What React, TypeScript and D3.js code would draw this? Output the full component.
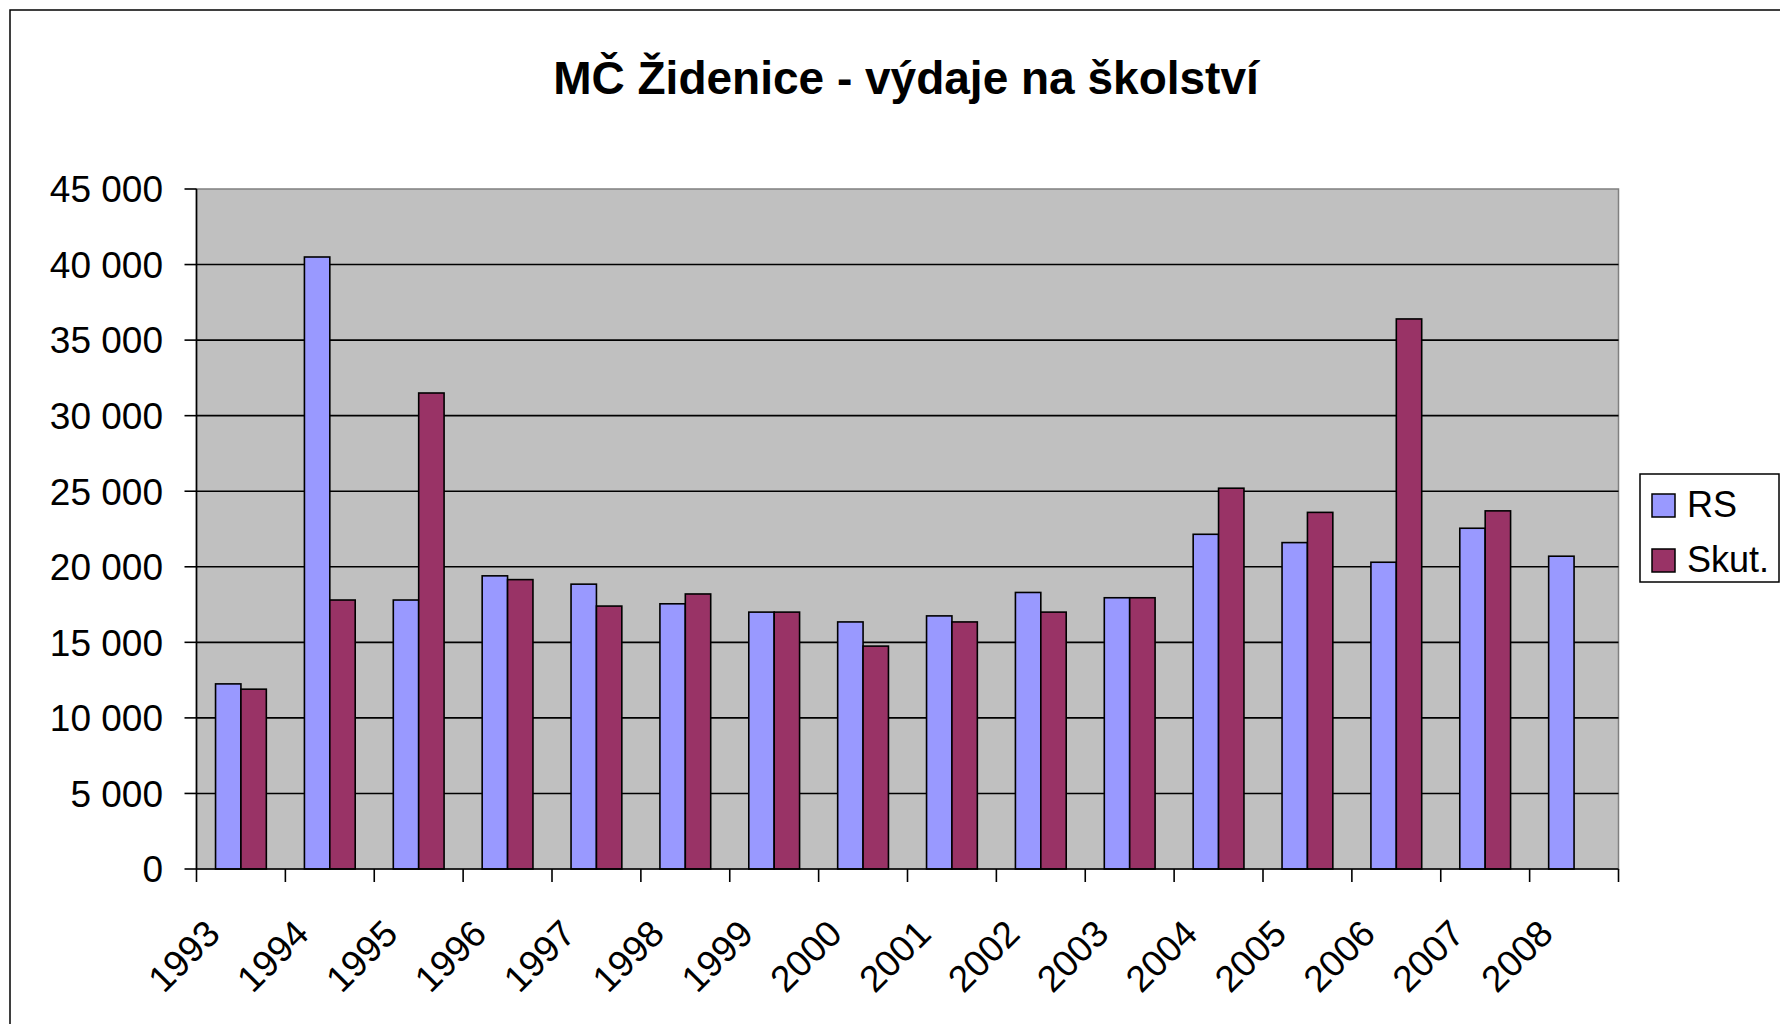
import React, { useEffect, useRef } from "react";
import * as d3 from "d3";

// data (thousands CZK)
const years = ["1993", "1994", "1995", "1996", "1997", "1998", "1999", "2000",
  "2001", "2002", "2003", "2004", "2005", "2006", "2007", "2008"];
const rsValues = [12250, 40500, 17800, 19400, 18850, 17550, 17000, 16350,
  16750, 18300, 17950, 22150, 21600, 20300, 22550, 20700];
const skutValues = [11900, 17800, 31500, 19150, 17400, 18200, 17000, 14750,
  16350, 17000, 17950, 25200, 23600, 36400, 23700, null];
const seriesNames = ["RS", "Skut."];
const seriesColors = ["#9999FF", "#993366"];
const yTickValues = [0, 5000, 10000, 15000, 20000, 25000, 30000, 35000, 40000, 45000];
const title = "MČ Židenice - výdaje na školství";

const FONT = "'Liberation Sans', Arial, sans-serif";

export default function App() {
  const ref = useRef<SVGSVGElement>(null);

  useEffect(() => {
    const width = 1780;
    const height = 1024;
    const left = 196.5;
    const right = 1618.5;
    const top = 189;
    const bottom = 869;

    const svg = d3.select(ref.current);
    svg.selectAll("*").remove();
    svg.attr("width", width).attr("height", height);

    svg.append("rect").attr("width", width).attr("height", height).attr("fill", "#fff");

    // outer chart border (only left and top are visible)
    svg
      .append("rect")
      .attr("x", 10)
      .attr("y", 10)
      .attr("width", width + 40)
      .attr("height", height + 40)
      .attr("fill", "none")
      .attr("stroke", "#000")
      .attr("stroke-width", 1.5);

    const x = d3.scaleBand().domain(years).range([left, right]).padding(0);
    const xs = d3
      .scaleBand()
      .domain(seriesNames)
      .range([0, x.bandwidth()])
      .paddingInner(0)
      .paddingOuter(0.75);
    const y = d3.scaleLinear().domain([0, 45000]).range([bottom, top]);
    const fmt = d3.formatLocale({ decimal: ",", thousands: " ", grouping: [3], currency: ["", ""] }).format(",");

    // plot area
    svg
      .append("rect")
      .attr("x", left)
      .attr("y", top)
      .attr("width", right - left)
      .attr("height", bottom - top)
      .attr("fill", "#C0C0C0")
      .attr("stroke", "#808080")
      .attr("stroke-width", 1.5);

    // gridlines
    svg
      .append("g")
      .selectAll("line")
      .data(yTickValues.filter(d => d > 0 && d < 45000))
      .join("line")
      .attr("x1", left)
      .attr("x2", right)
      .attr("y1", d => y(d))
      .attr("y2", d => y(d))
      .attr("stroke", "#000")
      .attr("stroke-width", 1.6);

    // bars
    const rows = years.map((yr, i) => ({ year: yr, values: [rsValues[i], skutValues[i]] }));
    svg
      .append("g")
      .selectAll("g")
      .data(rows)
      .join("g")
      .attr("transform", d => `translate(${x(d.year)},0)`)
      .selectAll("rect")
      .data(d => d.values.map((v, j) => ({ name: seriesNames[j], color: seriesColors[j], value: v })).filter(d => d.value != null))
      .join("rect")
      .attr("x", d => xs(d.name))
      .attr("width", xs.bandwidth())
      .attr("y", d => y(d.value))
      .attr("height", d => y(0) - y(d.value))
      .attr("fill", d => d.color)
      .attr("stroke", "#000")
      .attr("stroke-width", 1.6);

    // y axis
    const yAxis = svg.append("g");
    yAxis
      .append("line")
      .attr("x1", left)
      .attr("x2", left)
      .attr("y1", top)
      .attr("y2", bottom)
      .attr("stroke", "#000")
      .attr("stroke-width", 1.6);
    yAxis
      .selectAll("line.tick")
      .data(yTickValues)
      .join("line")
      .attr("class", "tick")
      .attr("x1", left - 12)
      .attr("x2", left)
      .attr("y1", d => y(d))
      .attr("y2", d => y(d))
      .attr("stroke", "#000")
      .attr("stroke-width", 1.6);
    yAxis
      .selectAll("text")
      .data(yTickValues)
      .join("text")
      .attr("x", 163)
      .attr("y", d => y(d))
      .attr("dy", "0.36em")
      .attr("text-anchor", "end")
      .attr("font-family", FONT)
      .attr("font-size", 37)
      .attr("fill", "#000")
      .text(d => fmt(d));

    // x axis
    const xAxis = svg.append("g");
    xAxis
      .append("line")
      .attr("x1", left)
      .attr("x2", right)
      .attr("y1", bottom)
      .attr("y2", bottom)
      .attr("stroke", "#000")
      .attr("stroke-width", 1.6);
    xAxis
      .selectAll("line.tick")
      .data([...years.map(d => x(d)), right])
      .join("line")
      .attr("class", "tick")
      .attr("x1", d => d)
      .attr("x2", d => d)
      .attr("y1", bottom)
      .attr("y2", bottom + 13)
      .attr("stroke", "#000")
      .attr("stroke-width", 1.6);
    xAxis
      .selectAll("text")
      .data(years)
      .join("text")
      .attr("transform", d => `translate(${x(d) + x.bandwidth() / 2 - 19},${bottom + 67}) rotate(-45)`)
      .attr("text-anchor", "end")
      .attr("font-family", FONT)
      .attr("font-size", 37)
      .attr("fill", "#000")
      .text(d => d);

    // title
    svg
      .append("text")
      .attr("x", 906)
      .attr("y", 94)
      .attr("text-anchor", "middle")
      .attr("font-family", FONT)
      .attr("font-weight", "bold")
      .attr("font-size", 46)
      .attr("fill", "#000")
      .text(title);

    // legend
    const lg = svg.append("g").attr("transform", "translate(1640,474)");
    lg.append("rect")
      .attr("width", 139)
      .attr("height", 108)
      .attr("fill", "#fff")
      .attr("stroke", "#000")
      .attr("stroke-width", 1.5);
    const item = lg
      .selectAll("g")
      .data(seriesNames)
      .join("g")
      .attr("transform", (d, i) => `translate(12,${20 + i * 55})`);
    item
      .append("rect")
      .attr("width", 23)
      .attr("height", 23)
      .attr("fill", (d, i) => seriesColors[i])
      .attr("stroke", "#000")
      .attr("stroke-width", 1.5);
    item
      .append("text")
      .attr("x", 35)
      .attr("y", 23)
      .attr("font-family", FONT)
      .attr("font-size", 36)
      .attr("fill", "#000")
      .text(d => d);
  }, []);

  return <svg ref={ref} style={{ position: "absolute", left: 0, top: 0, display: "block" }} />;
}
